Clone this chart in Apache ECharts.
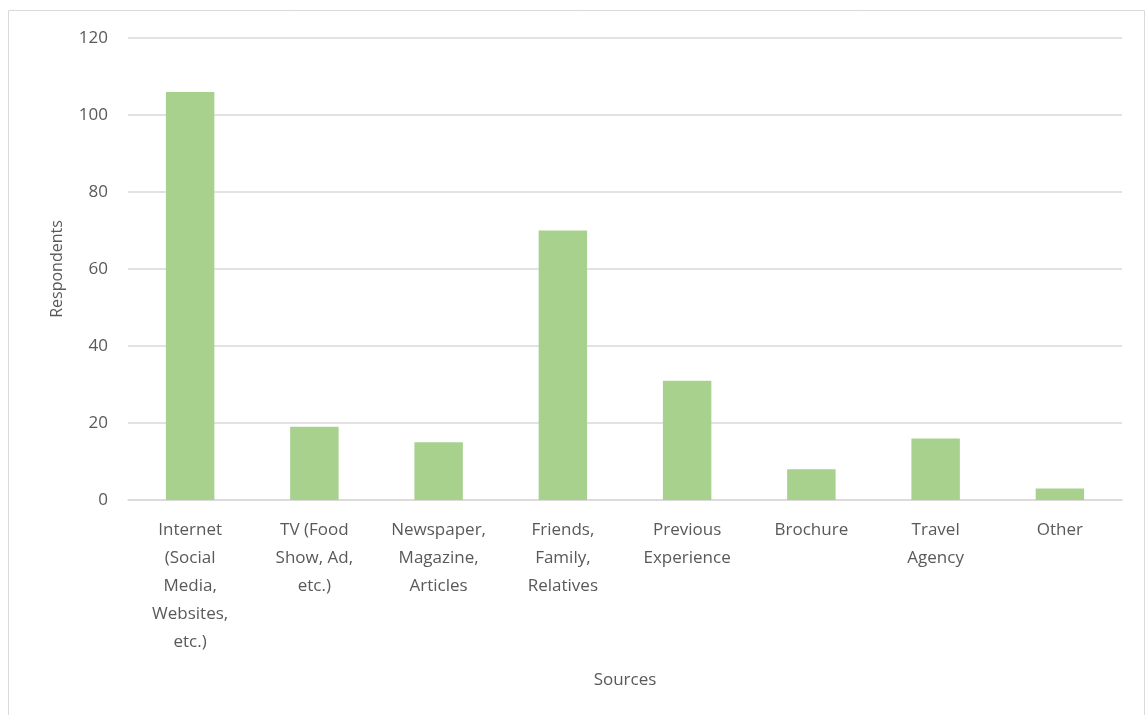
<!DOCTYPE html>
<html>
<head>
<meta charset="utf-8">
<script src="https://cdn.jsdelivr.net/npm/echarts@6/dist/echarts.min.js"></script>
<style>
  html, body { margin: 0; padding: 0; background: #fff; }
  #main { width: 1148px; height: 715px; }
</style>
</head>
<body>
<div id="main"></div>
<script>
// categories (wrapped like the original labels)
const categories = [
  'Internet\n(Social\nMedia,\nWebsites,\netc.)',
  'TV (Food\nShow, Ad,\netc.)',
  'Newspaper,\nMagazine,\nArticles',
  'Friends,\nFamily,\nRelatives',
  'Previous\nExperience',
  'Brochure',
  'Travel\nAgency',
  'Other'
];
const respondents = [106, 19, 15, 70, 31, 8, 16, 3];

const textColor = '#595959';
const lineColor = '#d9d9d9';
const fontFamily = '"Open Sans", "Noto Sans", sans-serif';

const chart = echarts.init(document.getElementById('main'));

const option = {
  animation: false,
  textStyle: { fontFamily: fontFamily },
  graphic: [{
    type: 'rect',
    shape: { x: 8.5, y: 10.5, width: 1136, height: 720 },
    style: { fill: 'none', stroke: lineColor, lineWidth: 1 },
    silent: true
  }],
  grid: {
    left: 128,
    right: 26,
    top: 38,
    bottom: 215
  },
  xAxis: {
    type: 'category',
    data: categories,
    name: 'Sources',
    nameLocation: 'middle',
    nameGap: 172,
    nameTextStyle: { color: textColor, fontSize: 17 },
    axisLine: { lineStyle: { color: lineColor, width: 1.5 } },
    axisTick: { show: false },
    axisLabel: {
      color: textColor,
      fontSize: 17,
      lineHeight: 28,
      margin: 16,
      interval: 0
    }
  },
  yAxis: {
    type: 'value',
    min: 0,
    max: 120,
    interval: 20,
    name: 'Respondents',
    nameLocation: 'middle',
    nameGap: 63,
    nameTextStyle: { color: textColor, fontSize: 16 },
    axisLine: { show: false },
    axisTick: { show: false },
    axisLabel: { color: textColor, fontSize: 17, margin: 20 },
    splitLine: { lineStyle: { color: lineColor, width: 1.5 } }
  },
  series: [{
    name: 'Respondents',
    type: 'bar',
    data: respondents,
    barWidth: '39%',
    itemStyle: { color: '#a9d18e' }
  }]
};

chart.setOption(option);
</script>
</body>
</html>
